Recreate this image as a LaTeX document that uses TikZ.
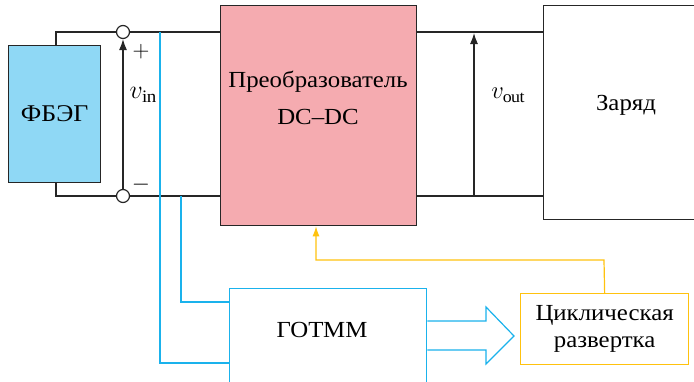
\documentclass[tikz,border=0pt]{standalone}
\usepackage{fontspec}
\setmainfont{Liberation Serif}[FakeStretch=1.08]
\usetikzlibrary{arrows.meta}
\definecolor{boxblue}{HTML}{8FD8F5}
\definecolor{boxpink}{HTML}{F5ABB0}
\definecolor{lineblue}{HTML}{1AB2EC}
\definecolor{lineyel}{HTML}{FFC20E}
\newcommand{\fsz}[1]{\fontsize{#1}{#1}\selectfont}
\tikzset{
  blk/.style={draw=black!85, line width=1.3pt, anchor=north west, inner sep=0pt, align=center},
  wire/.style={draw=black!85, line width=1.2pt},
  bwire/.style={draw=lineblue, line width=1.2pt},
  ywire/.style={draw=lineyel, line width=1.2pt},
  term/.style={circle, draw=black!85, fill=white, line width=1.2pt, minimum size=13pt, inner sep=0pt},
  varrow/.style={wire, -{Latex[length=11pt,width=8pt]}},
  lbl/.style={inner sep=0pt},
  mlbl/.style={inner sep=0pt, font=\fsz{20}, scale=1.25},
}
\begin{document}
\begin{tikzpicture}[x=1pt,y=-1pt]
\useasboundingbox (0,0) rectangle (694,381);
% blocks
\node[blk, fill=boxblue, minimum width=92pt, minimum height=137pt, font=\fsz{24}] (fbeg) at (8,45) {ФБЭГ};
\node[blk, fill=boxpink, minimum width=196pt, minimum height=220pt] (conv) at (220,5) {};
\node[lbl, font=\fsz{23}] at (318,82) {Преобразователь};
\node[lbl, font=\fsz{23}] at (318,117) {DC–DC};
\node[blk, fill=white, minimum width=160pt, minimum height=214pt] (load) at (543,5) {};
\node[lbl, font=\fsz{23}] at (626,105) {Заряд};
\node[blk, draw=lineblue, fill=white, minimum width=197pt, minimum height=100pt] (gotmm) at (229,288) {};
\node[lbl, font=\fsz{23}] at (322,330) {ГОТММ};
\node[blk, draw=lineyel, fill=white, minimum width=168pt, minimum height=71pt, font=\fontsize{23}{27}\selectfont] (cyc) at (520,293) {Циклическая\\развертка};
% terminals
\coordinate (tl) at (56,32);
\coordinate (bl) at (56,196);
\node[term] (c1) at (123,32) {};
\node[term] (c2) at (123,196) {};
% black wiring
\draw[wire] (fbeg.north -| tl) -- (tl) -- (c1);
\draw[wire] (c1) -- (c1 -| conv.west);
\draw[wire] (fbeg.south -| bl) -- (bl) -- (c2);
\draw[wire] (c2) -- (c2 -| conv.west);
\draw[wire] (c1 -| conv.east) -- (c1 -| load.west);
\draw[wire] (c2 -| conv.east) -- (c2 -| load.west);
\draw[varrow] (c2.north) -- (c1.south);
\coordinate (vo) at (474,196);
\coordinate (vt) at (474,33);
\draw[varrow] (vo) -- (vt);
\node[mlbl] at (143,95) {$v_{\mathrm{in}}$};
\node[mlbl, scale=0.9] at (141,52) {$+$};
\node[mlbl, scale=0.9] at (141,185) {$-$};
\node[mlbl, scale=0.95] at (508,95) {$v_{\mathrm{out}}$};
% blue lines
\draw[bwire] (160,32) -- (160,363) -- (gotmm.west |- 0,363);
\draw[bwire] (181,196) -- (181,302) -- (gotmm.west |- 0,302);
% hollow arrow
\draw[bwire, fill=white, line join=miter] (gotmm.east |- 0,321) -- (486,321) -- (486,307) -- (514,336) -- (486,364) -- (486,350) -- (gotmm.east |- 0,350);
% yellow feedback
\draw[ywire, -{Latex[length=10pt,width=7pt]}] (cyc.north) -- (604,260) -- (316,260) -- (conv.south -| 316,0);
\end{tikzpicture}
\end{document}
